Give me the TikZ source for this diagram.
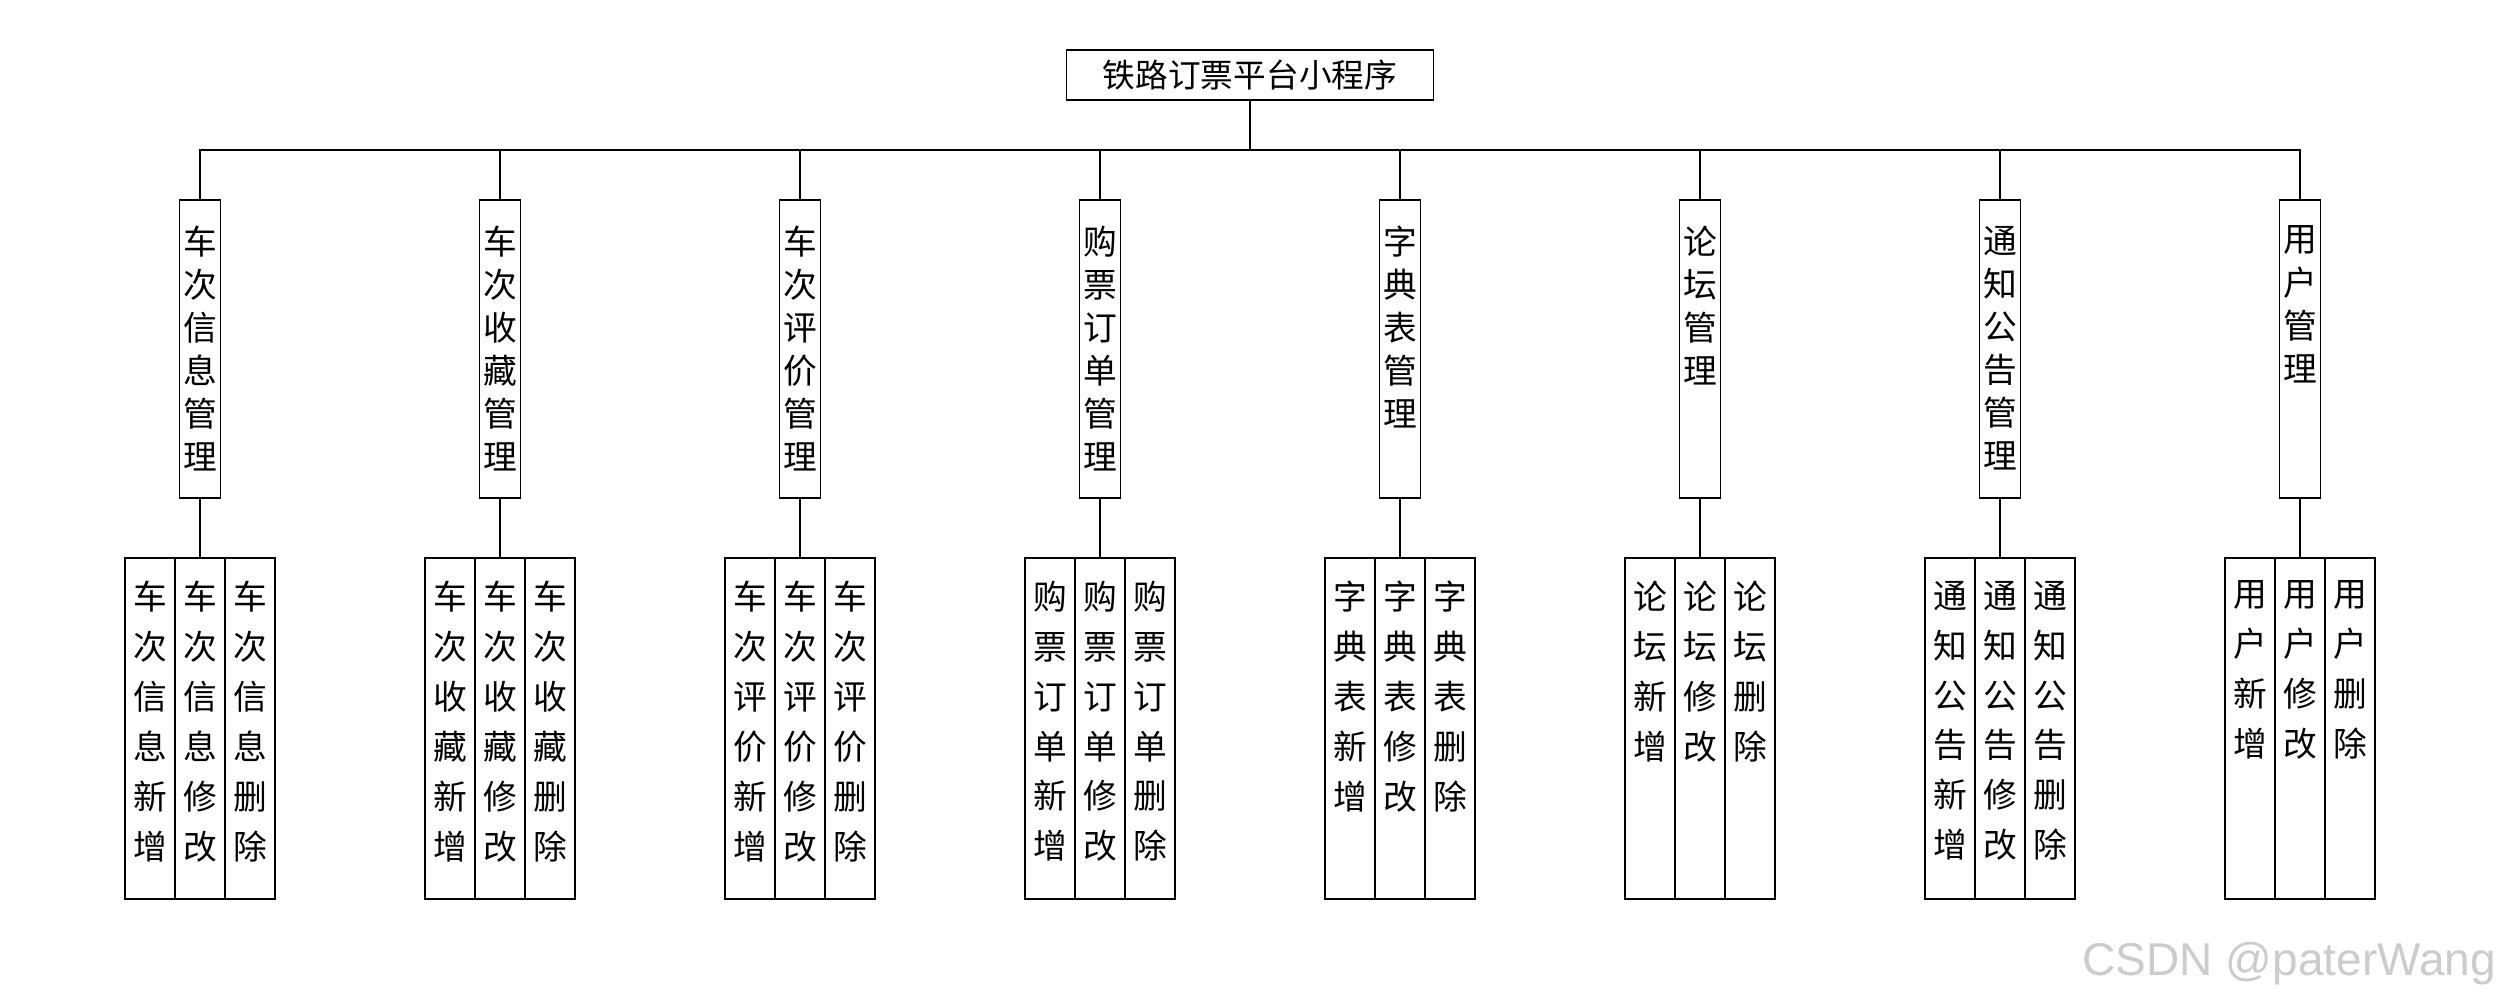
\documentclass[tikz,border=0pt]{standalone}
\usepackage{fontspec}
\setmainfont{Noto Sans CJK SC}
\newfontfamily\wmfont{Liberation Sans}
\usetikzlibrary{positioning}

% vertical text, top aligned in a box of fixed height
\newcommand{\vcol}[3]{\parbox[c][#1][t]{1em}{\centering\vspace*{#2}#3\par}}
\newcommand{\modtext}[1]{\vcol{29.8mm}{2.6mm}{#1}}
\newcommand{\funtext}[1]{\vcol{34.1mm}{2.3mm}{#1}}

\tikzset{
  app/.style={draw, minimum width=36.7mm, minimum height=5mm, inner sep=0, font=\fontsize{9.3}{11}\selectfont},
  mod/.style={draw, minimum width=4.1mm, minimum height=29.8mm, inner sep=0, font=\fontsize{9.6}{12.24}\selectfont},
  fun/.style={draw, minimum width=5mm, minimum height=34.1mm, inner sep=0, font=\fontsize{9.6}{14.2}\selectfont},
}

\begin{document}
\begin{tikzpicture}[x=0.1mm, y=-0.1mm, line width=0.5pt]
\useasboundingbox (0,0) rectangle (2500,1000);
\node (app) at (1250, 75) [app] {铁路订票平台小程序};
\coordinate (bus) at (1250, 150);
\node (m1) at (200, 349) [mod] {\modtext{车\\次\\信\\息\\管\\理}};
\node (m2) at (500, 349) [mod] {\modtext{车\\次\\收\\藏\\管\\理}};
\node (m3) at (800, 349) [mod] {\modtext{车\\次\\评\\价\\管\\理}};
\node (m4) at (1100, 349) [mod] {\modtext{购\\票\\订\\单\\管\\理}};
\node (m5) at (1400, 349) [mod] {\modtext{字\\典\\表\\管\\理}};
\node (m6) at (1700, 349) [mod] {\modtext{论\\坛\\管\\理}};
\node (m7) at (2000, 349) [mod] {\modtext{通\\知\\公\\告\\管\\理}};
\node (m8) at (2300, 349) [mod] {\modtext{用\\户\\管\\理}};
\node (f11) at (150, 728.5) [fun] {\funtext{车\\次\\信\\息\\新\\增}};
\node (f12) at (200, 728.5) [fun] {\funtext{车\\次\\信\\息\\修\\改}};
\node (f13) at (250, 728.5) [fun] {\funtext{车\\次\\信\\息\\删\\除}};
\node (f21) at (450, 728.5) [fun] {\funtext{车\\次\\收\\藏\\新\\增}};
\node (f22) at (500, 728.5) [fun] {\funtext{车\\次\\收\\藏\\修\\改}};
\node (f23) at (550, 728.5) [fun] {\funtext{车\\次\\收\\藏\\删\\除}};
\node (f31) at (750, 728.5) [fun] {\funtext{车\\次\\评\\价\\新\\增}};
\node (f32) at (800, 728.5) [fun] {\funtext{车\\次\\评\\价\\修\\改}};
\node (f33) at (850, 728.5) [fun] {\funtext{车\\次\\评\\价\\删\\除}};
\node (f41) at (1050, 728.5) [fun] {\funtext{购\\票\\订\\单\\新\\增}};
\node (f42) at (1100, 728.5) [fun] {\funtext{购\\票\\订\\单\\修\\改}};
\node (f43) at (1150, 728.5) [fun] {\funtext{购\\票\\订\\单\\删\\除}};
\node (f51) at (1350, 728.5) [fun] {\funtext{字\\典\\表\\新\\增}};
\node (f52) at (1400, 728.5) [fun] {\funtext{字\\典\\表\\修\\改}};
\node (f53) at (1450, 728.5) [fun] {\funtext{字\\典\\表\\删\\除}};
\node (f61) at (1650, 728.5) [fun] {\funtext{论\\坛\\新\\增}};
\node (f62) at (1700, 728.5) [fun] {\funtext{论\\坛\\修\\改}};
\node (f63) at (1750, 728.5) [fun] {\funtext{论\\坛\\删\\除}};
\node (f71) at (1950, 728.5) [fun] {\funtext{通\\知\\公\\告\\新\\增}};
\node (f72) at (2000, 728.5) [fun] {\funtext{通\\知\\公\\告\\修\\改}};
\node (f73) at (2050, 728.5) [fun] {\funtext{通\\知\\公\\告\\删\\除}};
\node (f81) at (2250, 728.5) [fun] {\funtext{用\\户\\新\\增}};
\node (f82) at (2300, 728.5) [fun] {\funtext{用\\户\\修\\改}};
\node (f83) at (2350, 728.5) [fun] {\funtext{用\\户\\删\\除}};
\node (wm) at (2497, 975) [anchor=base east, inner sep=0, text=gray!40, font=\wmfont\fontsize{13.1}{15}\selectfont] {CSDN @paterWang};
\draw (app) -- (bus);
\draw (bus) -| (m1.north);
\draw (bus) -| (m2.north);
\draw (bus) -| (m3.north);
\draw (bus) -| (m4.north);
\draw (bus) -| (m5.north);
\draw (bus) -| (m6.north);
\draw (bus) -| (m7.north);
\draw (bus) -| (m8.north);
\draw (m1) -- (f12);
\draw (m2) -- (f22);
\draw (m3) -- (f32);
\draw (m4) -- (f42);
\draw (m5) -- (f52);
\draw (m6) -- (f62);
\draw (m7) -- (f72);
\draw (m8) -- (f82);
\end{tikzpicture}
\end{document}
